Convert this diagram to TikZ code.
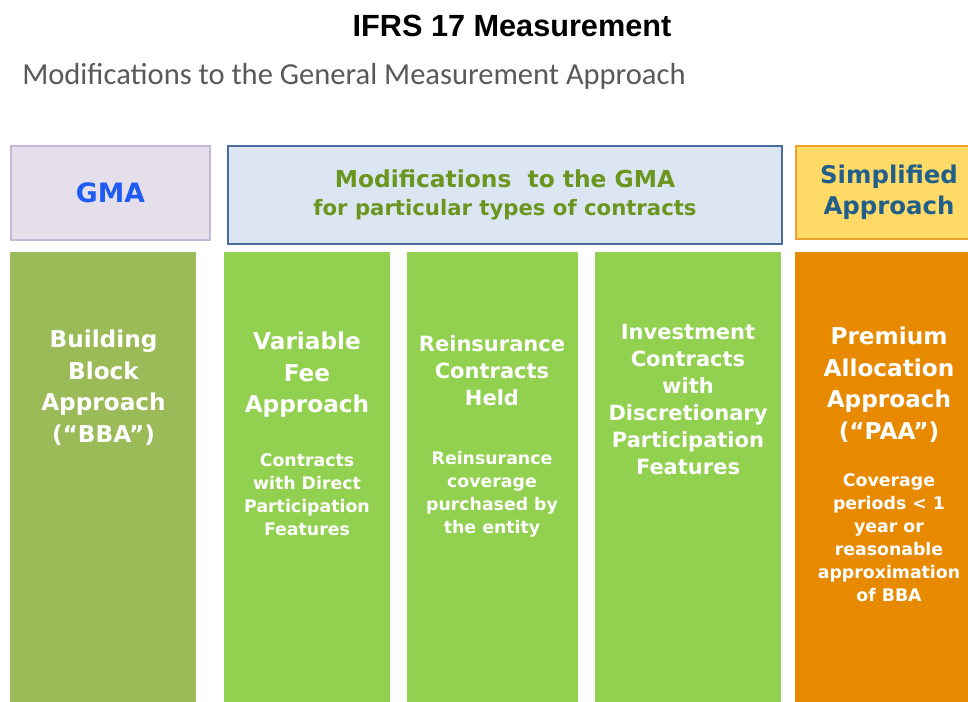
\documentclass[tikz,border=0pt]{standalone}
\usepackage{fontspec}
\setmainfont{DejaVu Sans}
\newfontfamily\titlefont{Liberation Sans}
\newfontfamily\subtitlefont{Carlito}
\usepackage{tikz}

\definecolor{subgray}{HTML}{595959}
\definecolor{gmafill}{HTML}{E5DFEC}
\definecolor{gmaline}{HTML}{C6B8D9}
\definecolor{gmablue}{HTML}{1F5CF5}
\definecolor{modfill}{HTML}{DCE6F2}
\definecolor{modline}{HTML}{4A6B9D}
\definecolor{modgreen}{HTML}{6A961F}
\definecolor{simpfill}{HTML}{FFDA66}
\definecolor{simpline}{HTML}{F0A030}
\definecolor{simpblue}{HTML}{215F8A}
\definecolor{bbagreen}{HTML}{9BBB59}
\definecolor{modcol}{HTML}{92D050}
\definecolor{paaorange}{HTML}{E88A00}

\newcommand{\px}{0.75pt}

\begin{document}
\begin{tikzpicture}[
    x=0.75pt, y=-0.75pt,
    hdrbox/.style={rectangle, line width=1.5pt, anchor=north west, inner sep=0pt, align=center, font=\bfseries},
    colbox/.style={rectangle, anchor=north west, inner sep=0pt, minimum height=470*\px},
    coltext/.style={anchor=north, inner sep=0pt, align=center, text=white,
        font=\bfseries\fontsize{17.4}{23.6}\selectfont},
    tighttext/.style={coltext, font=\bfseries\fontsize{15.75}{20.25}\selectfont},
    subtext/.style={anchor=north, inner sep=0pt, align=center, text=white,
        font=\bfseries\fontsize{13}{17.25}\selectfont}
]
    \useasboundingbox (0,0) rectangle (968,702);
    \clip (0,0) rectangle (968,702);

    % Titles
    \node[font=\titlefont\bfseries\fontsize{23}{26}\selectfont] (title) at (512,26) {IFRS 17 Measurement};
    \node[anchor=west, inner sep=0pt, text=subgray, font=\subtitlefont\fontsize{22.9}{26}\selectfont] (subtitle) at (22,76) {Modifications to the General Measurement Approach};

    % Header boxes
    \node[hdrbox, draw=gmaline, fill=gmafill, text=gmablue, minimum width=199*\px, minimum height=94*\px,
        font=\bfseries\fontsize{20}{23}\selectfont] (hgma) at (10,145) {GMA};
    \node[hdrbox, draw=modline, fill=modfill, text=modgreen, minimum width=554*\px, minimum height=98*\px,
        font=\bfseries\fontsize{17.5}{21}\selectfont] (hmod) at (227,145)
        {Modifications\ \ to the GMA\\{\fontsize{15.9}{21}\selectfont for particular types of contracts}};
    \node[hdrbox, draw=simpline, fill=simpfill, text=simpblue, minimum width=186*\px, minimum height=93*\px,
        font=\bfseries\fontsize{18.3}{23}\selectfont] (hsimp) at (795,145) {Simplified\\Approach};

    % Columns
    \node[colbox, fill=bbagreen, minimum width=186*\px] (bba) at (10,252) {};
    \node[colbox, fill=modcol, minimum width=166*\px] (vfa) at (224,252) {};
    \node[colbox, fill=modcol, minimum width=171*\px] (reins) at (407,252) {};
    \node[colbox, fill=modcol, minimum width=186*\px] (invest) at (595,252) {};
    \node[colbox, fill=paaorange, minimum width=190*\px] (paa) at (795,252) {};

    % Column texts
    \node[coltext] (bbatxt) at (103.5,330) {Building\\Block\\Approach\\(“BBA”)};
    \node[coltext] (vfatxt) at (307,332) {Variable\\Fee\\Approach};
    \node[subtext] (vfasub) at (307,453) {Contracts\\with Direct\\Participation\\Features};
    \node[tighttext] (reinstxt) at (492,335) {Reinsurance\\Contracts\\Held};
    \node[subtext] (reinssub) at (492,451) {Reinsurance\\coverage\\purchased by\\the entity};
    \node[tighttext] (investtxt) at (688,324) {Investment\\Contracts\\with\\Discretionary\\Participation\\Features};
    \node[coltext] (paatxt) at (889,327) {Premium\\Allocation\\Approach\\(“PAA”)};
    \node[subtext] (paasub) at (889,473) {Coverage\\periods < 1\\year or\\reasonable\\approximation\\of BBA};

\end{tikzpicture}
\end{document}
